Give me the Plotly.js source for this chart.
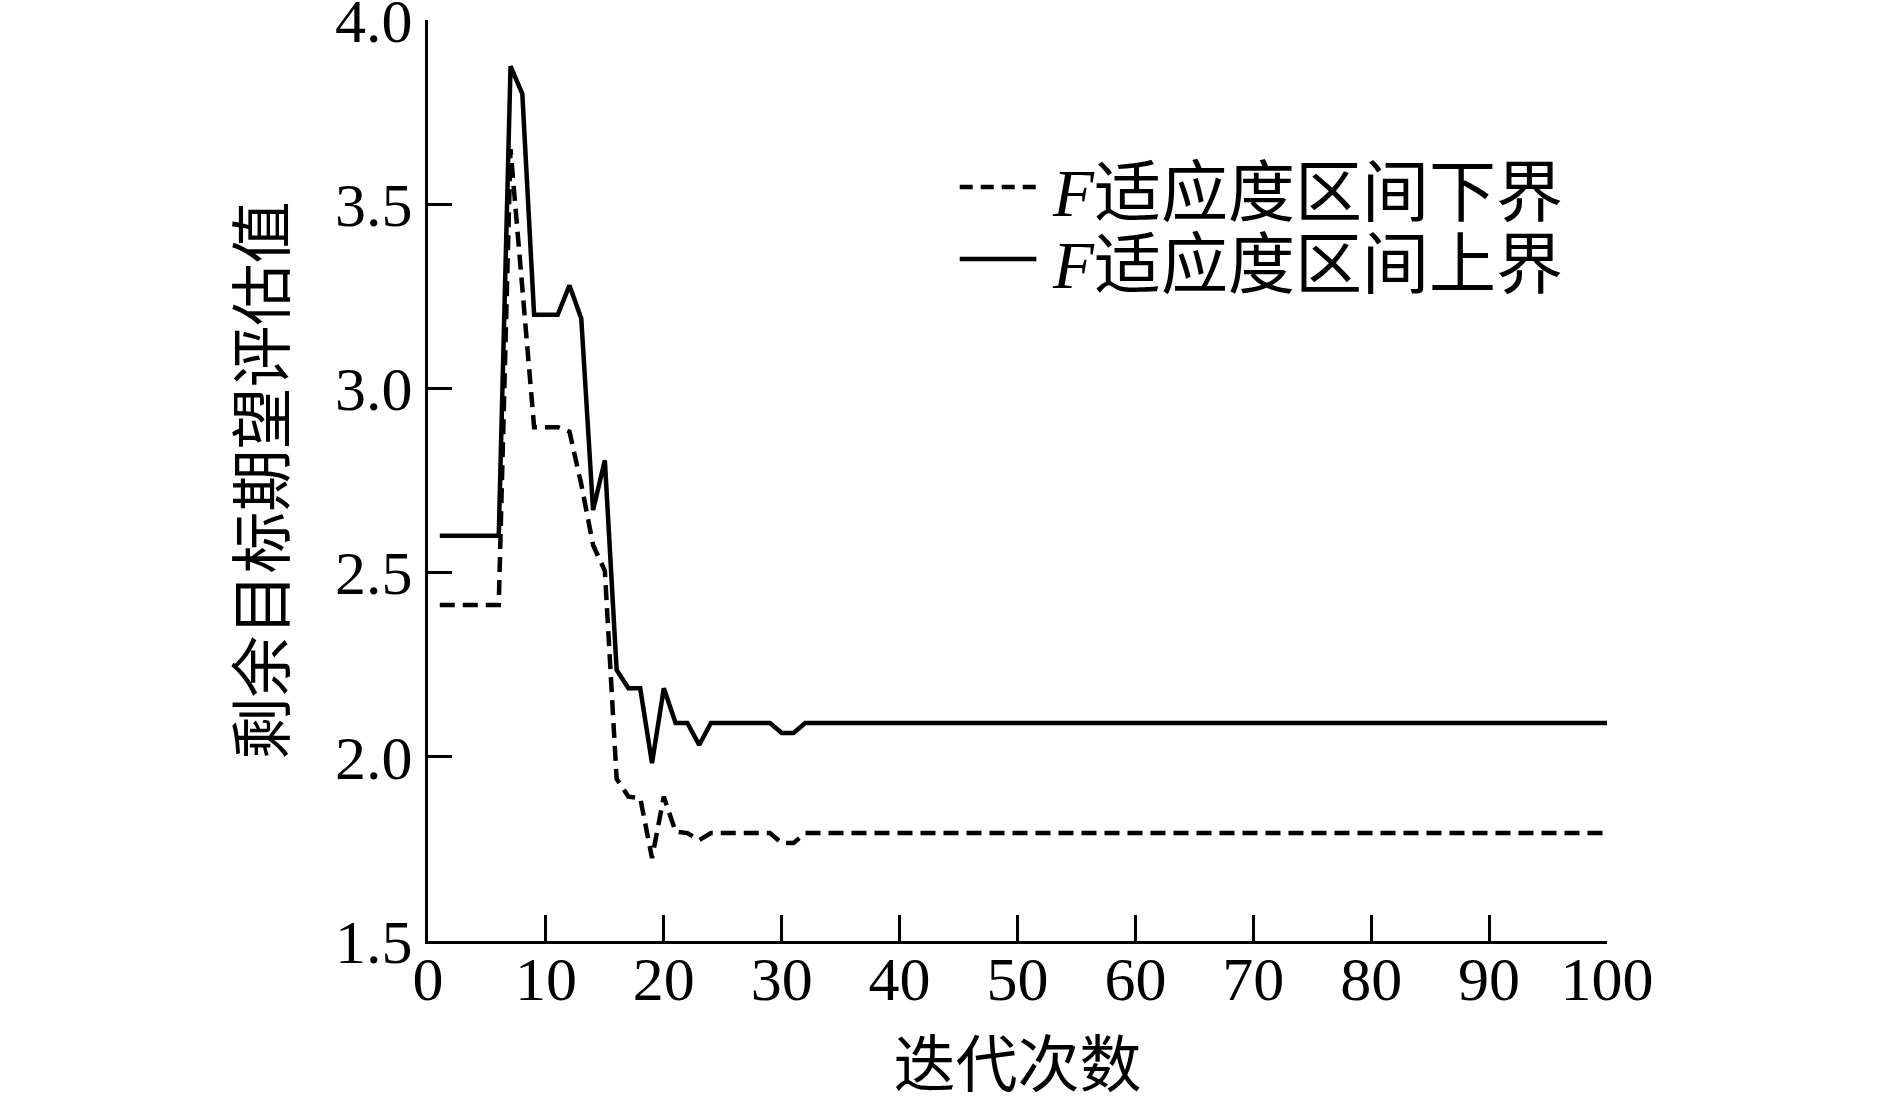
<!DOCTYPE html>
<html>
<head>
<meta charset="utf-8">
<script src="https://cdn.plot.ly/plotly-3.0.1.min.js"></script>
<style>
html,body{margin:0;padding:0;background:#fff;}
#chart{width:1889px;height:1105px;}
</style>
</head>
<body>
<div id="chart"></div>
<script>
// Iteration numbers
const iterations = [];
for (let i = 1; i <= 100; i++) iterations.push(i);

// Upper bound of F fitness interval (solid), values for iterations 1..32, then constant
const upperHead = [2.60, 2.60, 2.60, 2.60, 2.60, 2.60, 3.875, 3.80, 3.20, 3.20,
                   3.20, 3.28, 3.19, 2.67, 2.805, 2.236, 2.186, 2.186, 1.983, 2.186,
                   2.092, 2.092, 2.032, 2.092, 2.092, 2.092, 2.092, 2.092, 2.092, 2.065,
                   2.065, 2.092];
const upperTail = 2.092;

// Lower bound of F fitness interval (dashed)
const lowerHead = [2.412, 2.412, 2.412, 2.412, 2.412, 2.412, 3.65, 3.27, 2.895, 2.895,
                   2.895, 2.883, 2.74, 2.575, 2.505, 1.94, 1.892, 1.888, 1.725, 1.892,
                   1.797, 1.793, 1.774, 1.793, 1.793, 1.793, 1.793, 1.793, 1.793, 1.766,
                   1.766, 1.793];
const lowerTail = 1.793;

const upper = iterations.map((x, i) => i < upperHead.length ? upperHead[i] : upperTail);
const lower = iterations.map((x, i) => i < lowerHead.length ? lowerHead[i] : lowerTail);

const seriesNames = ['<i>F</i>适应度区间下界', '<i>F</i>适应度区间上界'];
const xTitle = '迭代次数';
const yTitle = '剩余目标期望评估值';
const xTicks = [0, 10, 20, 30, 40, 50, 60, 70, 80, 90, 100];
const yTicks = [1.5, 2.0, 2.5, 3.0, 3.5, 4.0];
const yTickText = ['1.5', '2.0', '2.5', '3.0', '3.5', '4.0'];

const serif = 'Liberation Serif, "Noto Sans CJK SC", serif';
const cjk = '"Noto Sans CJK SC", sans-serif';

const traces = [
  {x: iterations, y: lower, type: 'scatter', mode: 'lines', name: seriesNames[0],
   line: {color: '#000', width: 4.5, dash: '15px,8px'}, showlegend: false, cliponaxis: false},
  {x: iterations, y: upper, type: 'scatter', mode: 'lines', name: seriesNames[1],
   line: {color: '#000', width: 4.5}, showlegend: false, cliponaxis: false}
];

const legX0 = 0.451, legX1 = 0.516, legTextX = 0.5276;
const legRows = [0.8187, 0.7405];

const layout = {
  width: 1889, height: 1105,
  margin: {l: 428, r: 282, t: 20, b: 164},
  paper_bgcolor: '#fff', plot_bgcolor: '#fff',
  showlegend: false,
  xaxis: {
    range: [0, 100], tickvals: xTicks, ticktext: xTicks.map(String),
    ticks: 'inside', ticklen: 26, tickwidth: 3, tickcolor: '#000',
    showline: true, linecolor: '#000', linewidth: 3, mirror: false,
    showgrid: false, zeroline: false,
    tickfont: {family: serif, size: 62, color: '#000'},
    ticklabelstandoff: -18, ticklabeloverflow: 'allow',
    title: {text: xTitle, font: {family: cjk, size: 62, color: '#000'}, standoff: 40}
  },
  yaxis: {
    range: [1.5, 4.0005], tickvals: yTicks, ticktext: yTickText,
    ticks: 'inside', ticklen: 24, tickwidth: 3, tickcolor: '#000',
    showline: true, linecolor: '#000', linewidth: 3, mirror: false,
    showgrid: false, zeroline: false,
    tickfont: {family: serif, size: 62, color: '#000'},
    ticklabelstandoff: 0, ticklabeloverflow: 'allow',
    title: {text: yTitle, font: {family: cjk, size: 62, color: '#000'}, standoff: 30}
  },
  shapes: [
    {type: 'line', xref: 'paper', yref: 'paper', x0: legX0, x1: legX1, y0: legRows[0], y1: legRows[0],
     line: {color: '#000', width: 4.5, dash: '13px,8px'}},
    {type: 'line', xref: 'paper', yref: 'paper', x0: legX0, x1: legX1, y0: legRows[1], y1: legRows[1],
     line: {color: '#000', width: 4.5}}
  ],
  annotations: seriesNames.map((t, i) => ({
    text: t, xref: 'paper', yref: 'paper', x: legTextX, y: legRows[i] - 0.006,
    xanchor: 'left', yanchor: 'middle', showarrow: false,
    font: {family: serif, size: 67, color: '#000'}
  }))
};

Plotly.newPlot('chart', traces, layout, {staticPlot: true, displayModeBar: false});
</script>
</body>
</html>
